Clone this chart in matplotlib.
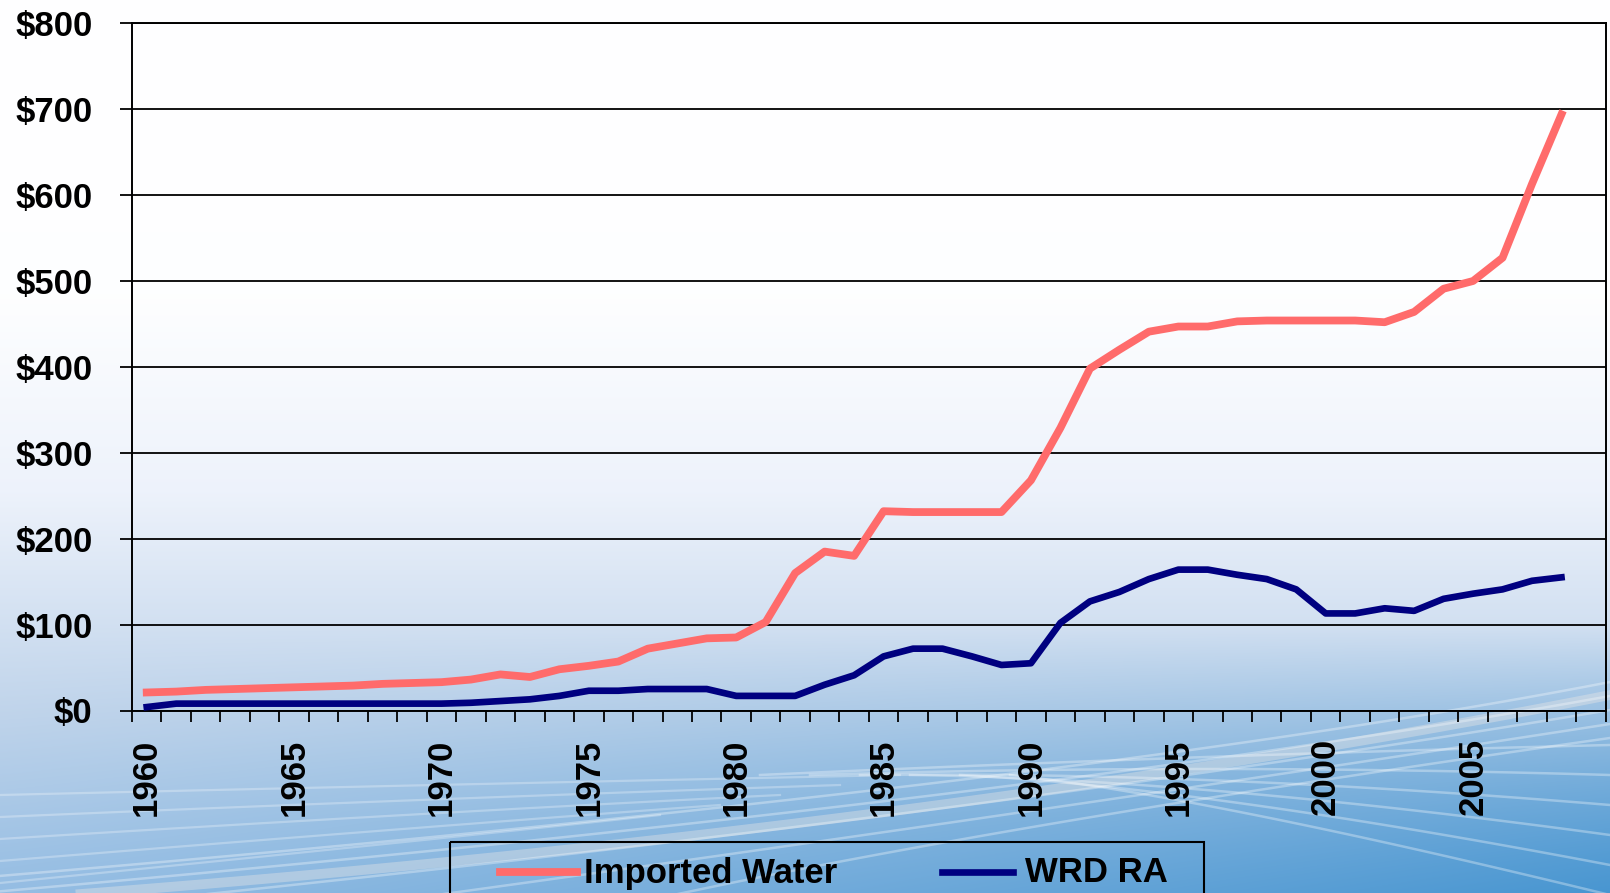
import numpy as np
import matplotlib
matplotlib.use('Agg')
import matplotlib.pyplot as plt
from matplotlib.lines import Line2D
from matplotlib.patches import Rectangle

# ---------------- data ----------------
years = list(range(1960, 2010))          # category axis 1960..2009
label_years = [str(y) if y % 5 == 0 else '' for y in years]
imported_water = [21, 22, 24, 25, 26, 27, 28, 29, 31, 32,
                  33, 36, 42, 39, 48, 52, 57, 72, 78, 84,
                  85, 103, 160, 185, 180, 232, 231, 231, 231, 231,
                  268, 329, 398, 420, 441, 447, 447, 453, 454, 454,
                  454, 454, 452, 464, 491, 500, 527, 613, 694]
wrd_ra = [4, 8, 8, 8, 8, 8, 8, 8, 8, 8,
          8, 9, 11, 13, 17, 23, 23, 25, 25, 25,
          17, 17, 17, 30, 41, 63, 72, 72, 63, 53,
          55, 102, 127, 138, 153, 164, 164, 158, 153, 141,
          113, 113, 119, 116, 130, 136, 141, 151, 155]
y_ticks = [0, 100, 200, 300, 400, 500, 600, 700, 800]
series_names = ['Imported Water', 'WRD RA']

PINK = '#FF6B6B'
NAVY = '#000080'
FONT = 'Liberation Sans'
FS = 25
LW_PINK = 5.6
LW_NAVY = 4.8

W, H = 1610, 893
fig = plt.figure(figsize=(W / 100, H / 100), dpi=100)

# ---------------- background ----------------
bg = fig.add_axes([0, 0, 1, 1], zorder=-5)
yy, xx = np.mgrid[0:H, 0:W]
t = yy / H
u = xx / W
st = [0.0, 0.33, 0.55, 0.80, 1.0]
cols = np.array([[1, 1, 1], [0.995, 0.997, 1.0], [0.93, 0.95, 0.985],
                 [0.75, 0.83, 0.92], [0.58, 0.74, 0.89]])
img = np.zeros((H, W, 3))
for c in range(3):
    img[..., c] = np.interp(t, st, cols[:, c])
w = np.clip((t - 0.70) / 0.30, 0, 1) * (u ** 1.1) * 0.9
target = np.array([0.25, 0.57, 0.81])
img = img * (1 - w[..., None]) + target * w[..., None]
bg.imshow(img, extent=[0, W, H, 0], aspect='auto', interpolation='bilinear')
bg.set_xlim(0, W)
bg.set_ylim(H, 0)
bg.axis('off')


def bez(p0, p1, p2, n=120):
    s = np.linspace(0, 1, n)[:, None]
    p0, p1, p2 = map(np.array, (p0, p1, p2))
    return (1 - s) ** 2 * p0 + 2 * (1 - s) * s * p1 + s ** 2 * p2

# broad light band rising to the upper right
c = bez((0, 900), (900, 835), (1610, 695))
bg.plot(c[:, 0], c[:, 1], color='#F4ECE6', alpha=0.35, lw=7)
# rising arcs towards upper right
for k, sx in enumerate([-300, -100, 150, 400, 650]):
    c = bez((sx, 900), (1000, 800 + 6 * k), (1610, 682 + 14 * k))
    bg.plot(c[:, 0], c[:, 1], color='white', alpha=0.32, lw=1.8)
# fan descending to the right
for k in range(6):
    c = bez((760 + 50 * k, 775), (1200, 755 + 8 * k), (1610, 745 + 30 * k))
    bg.plot(c[:, 0], c[:, 1], color='white', alpha=0.32, lw=1.8)
# left flat arcs
for k in range(5):
    c = bez((0, 795 + 22 * k), (420, 785 + 14 * k), (900 - 60 * k, 775 + 10 * k))
    bg.plot(c[:, 0], c[:, 1], color='white', alpha=0.28, lw=1.6)

# ---------------- main axes ----------------
left, right = 132 / W, 1605.7 / W
bottom, top = 1 - 710.5 / H, 1 - 23.3 / H
ax = fig.add_axes([left, bottom, right - left, top - bottom])
ax.set_facecolor('none')

x = np.arange(len(imported_water))
ax.plot(x, imported_water, color=PINK, lw=LW_PINK, zorder=3)
ax.plot(np.arange(len(wrd_ra)), wrd_ra, color=NAVY, lw=LW_NAVY, zorder=3)

ax.set_xlim(-0.5, len(years) - 0.5)
ax.set_ylim(0, 800)
ax.set_yticks(y_ticks)
ax.set_yticklabels([f'${v}' for v in y_ticks])
ax.yaxis.grid(True, color='black', lw=1.3)
ax.set_axisbelow(True)

major = [i for i, l in enumerate(label_years) if l]
ax.set_xticks(major)
ax.set_xticklabels([label_years[i] for i in major], rotation=90, va='top', ha='center')
ax.set_xticks(np.arange(len(years) + 1) - 0.5, minor=True)
ax.tick_params(axis='x', which='major', length=0, pad=20)
ax.tick_params(axis='x', which='minor', length=8, width=1.3, direction='out', color='black')
ax.tick_params(axis='y', which='major', length=8.6, width=1.3, direction='out', pad=20)

for lab in ax.get_xticklabels() + ax.get_yticklabels():
    lab.set_fontfamily(FONT)
    lab.set_fontweight('bold')
    lab.set_fontsize(FS)
    lab.set_color('black')

for sp in ax.spines.values():
    sp.set_color('black')
    sp.set_linewidth(1.4)

# ---------------- legend (bottom box, partly cut off) ----------------
bg.add_patch(Rectangle((450, 842), 754, 60, fill=False, edgecolor='black', lw=1.5,
                       clip_on=False, zorder=5))
bg.add_line(Line2D([500, 577], [872, 872], color=PINK, lw=LW_PINK, zorder=6))
bg.text(584, 873, series_names[0], fontfamily=FONT, fontweight='bold', fontsize=FS,
        va='center', ha='left', zorder=6)
bg.add_line(Line2D([942, 1013], [872, 872], color=NAVY, lw=LW_NAVY, zorder=6))
bg.text(1025, 873, series_names[1], fontfamily=FONT, fontweight='bold', fontsize=FS,
        va='center', ha='left', zorder=6)

fig.savefig('out.png', dpi=100)
